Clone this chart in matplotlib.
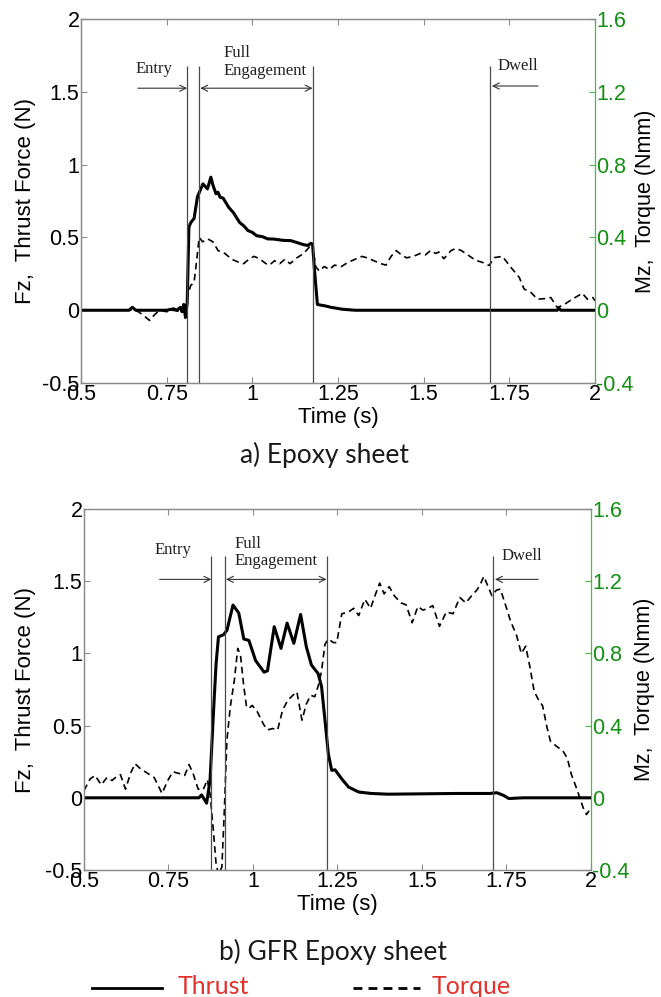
import matplotlib
matplotlib.use("Agg")
import matplotlib.pyplot as plt
from matplotlib.lines import Line2D

# ---------------- data: a) Epoxy sheet ----------------
t_thrust_a = [0.50, 0.60, 0.64, 0.65, 0.66, 0.70, 0.75, 0.77, 0.78, 0.79, 0.795, 0.80, 0.805,
              0.81, 0.815, 0.82, 0.83, 0.84, 0.856, 0.869, 0.879, 0.885, 0.894, 0.900, 0.906,
              0.915, 0.931, 0.945, 0.9625, 0.975, 0.9875, 1.00, 1.0125, 1.03, 1.045, 1.0625,
              1.09, 1.1125, 1.13, 1.15, 1.162, 1.171, 1.176, 1.181, 1.19, 1.20, 1.2125, 1.23,
              1.2625, 1.30, 1.50, 1.89, 1.895, 1.90, 2.00]
thrust_a = [0.0, 0.0, 0.0, 0.02, 0.0, 0.0, 0.0, 0.01, 0.0, 0.02, -0.01, 0.04, -0.05,
            0.05, 0.57, 0.60, 0.63, 0.78, 0.868, 0.833, 0.914, 0.86, 0.80, 0.81, 0.776,
            0.77, 0.707, 0.67, 0.604, 0.58, 0.547, 0.535, 0.512, 0.505, 0.49, 0.489,
            0.48, 0.478, 0.465, 0.45, 0.445, 0.46, 0.45, 0.29, 0.04, 0.035, 0.03, 0.02,
            0.007, 0.0, 0.0, 0.0, 0.015, 0.0, 0.0]

t_torque_a = [0.50, 0.60, 0.66, 0.68, 0.70, 0.715, 0.73, 0.75, 0.77, 0.79, 0.80, 0.81, 0.82,
              0.83, 0.838, 0.845, 0.855, 0.87, 0.885, 0.90, 0.92, 0.94, 0.96, 0.975, 0.99,
              1.005, 1.02, 1.04, 1.05, 1.065, 1.08, 1.095, 1.11, 1.13, 1.15, 1.165, 1.175,
              1.185, 1.195, 1.21, 1.225, 1.24, 1.26, 1.28, 1.30, 1.32, 1.335, 1.355, 1.375,
              1.39, 1.405, 1.42, 1.435, 1.45, 1.47, 1.49, 1.505, 1.52, 1.535, 1.544, 1.559,
              1.58, 1.593, 1.61, 1.632, 1.652, 1.67, 1.691, 1.706, 1.73, 1.754, 1.779, 1.793,
              1.813, 1.832, 1.855, 1.871, 1.89, 1.909, 1.934, 1.963, 1.978, 1.994, 2.00]
torque_a = [0.0, 0.0, 0.0, -0.024, -0.056, -0.024, 0.0, -0.008, 0.0, -0.008, 0.008, 0.064, 0.136,
            0.152, 0.28, 0.40, 0.376, 0.392, 0.376, 0.328, 0.312, 0.28, 0.264, 0.256, 0.28,
            0.296, 0.284, 0.256, 0.248, 0.272, 0.256, 0.28, 0.256, 0.288, 0.312, 0.344, 0.368,
            0.24, 0.216, 0.24, 0.224, 0.248, 0.24, 0.264, 0.28, 0.296, 0.288, 0.272, 0.256,
            0.248, 0.296, 0.328, 0.304, 0.288, 0.296, 0.312, 0.304, 0.328, 0.312, 0.32, 0.283,
            0.328, 0.339, 0.328, 0.30, 0.274, 0.264, 0.246, 0.289, 0.296, 0.237, 0.181, 0.117,
            0.098, 0.061, 0.064, 0.07, 0.015, 0.03, 0.061, 0.093, 0.061, 0.07, 0.052]

# ---------------- data: b) GFR Epoxy sheet ----------------
t_thrust_b = [0.50, 0.84, 0.848, 0.863, 0.873, 0.883, 0.891, 0.898, 0.913, 0.923, 0.941, 0.958,
              0.973, 0.988, 1.008, 1.033, 1.043, 1.063, 1.083, 1.101, 1.121, 1.141, 1.158,
              1.173, 1.193, 1.203, 1.213, 1.223, 1.233, 1.243, 1.263, 1.283, 1.313, 1.35,
              1.40, 1.60, 1.70, 1.722, 1.742, 1.757, 1.80, 2.00]
thrust_b = [0.0, 0.0, 0.02, -0.037, 0.12, 0.58, 0.93, 1.115, 1.13, 1.16, 1.335, 1.28,
            1.10, 1.09, 0.95, 0.87, 0.88, 1.185, 1.035, 1.21, 1.07, 1.27, 1.046,
            0.92, 0.86, 0.77, 0.54, 0.305, 0.19, 0.194, 0.13, 0.074, 0.04, 0.03,
            0.025, 0.03, 0.03, 0.035, 0.016, -0.005, 0.0, 0.0]

t_torque_b = [0.50, 0.518, 0.533, 0.551, 0.568, 0.583, 0.593, 0.608, 0.623, 0.638, 0.651, 0.668,
              0.688, 0.708, 0.731, 0.748, 0.763, 0.783, 0.798, 0.811, 0.823, 0.838, 0.853,
              0.865, 0.873, 0.883, 0.891, 0.898, 0.908, 0.915, 0.923, 0.933, 0.945, 0.955,
              0.963, 0.973, 0.981, 0.988, 0.998, 1.013, 1.031, 1.043, 1.058, 1.073, 1.088,
              1.103, 1.118, 1.13, 1.145, 1.158, 1.171, 1.183, 1.195, 1.203, 1.213, 1.223,
              1.238, 1.248, 1.263, 1.283, 1.298, 1.313, 1.331, 1.348, 1.363, 1.375, 1.388,
              1.403, 1.418, 1.438, 1.453, 1.471, 1.488, 1.503, 1.518, 1.532, 1.552, 1.572,
              1.592, 1.612, 1.63, 1.647, 1.662, 1.672, 1.683, 1.707, 1.72, 1.732, 1.747,
              1.762, 1.78, 1.794, 1.807, 1.82, 1.832, 1.844, 1.857, 1.87, 1.88, 1.897,
              1.917, 1.93, 1.942, 1.957, 1.967, 1.977, 1.987, 2.00]
torque_b = [0.04, 0.104, 0.124, 0.072, 0.112, 0.096, 0.112, 0.128, 0.048, 0.136, 0.189, 0.16,
            0.136, 0.112, 0.024, 0.096, 0.144, 0.134, 0.124, 0.184, 0.134, 0.048, 0.045,
            0.10, 0.024, -0.184, -0.368, -0.424, -0.384, -0.088, 0.32, 0.504, 0.652, 0.828,
            0.792, 0.616, 0.504, 0.496, 0.512, 0.476, 0.408, 0.376, 0.384, 0.376, 0.488,
            0.54, 0.568, 0.587, 0.43, 0.52, 0.568, 0.56, 0.632, 0.704, 0.85, 0.88,
            0.86, 0.86, 1.02, 1.03, 1.05, 1.01, 1.10, 1.05, 1.13, 1.19, 1.13,
            1.17, 1.12, 1.08, 1.07, 0.97, 1.06, 1.04, 1.05, 1.065, 0.95, 1.03,
            1.02, 1.11, 1.08, 1.12, 1.15, 1.18, 1.227, 1.12, 1.15, 1.157, 1.07,
            0.98, 0.90, 0.80, 0.84, 0.72, 0.59, 0.546, 0.51, 0.39, 0.315, 0.287,
            0.26, 0.22, 0.13, 0.055, 0.0, -0.055, -0.093, -0.055]

# phase boundaries (s)
bounds_a = [0.81, 0.845, 1.176, 1.694]
bounds_b = [0.877, 0.917, 1.218, 1.711]

x_ticks = [0.5, 0.75, 1.0, 1.25, 1.5, 1.75, 2.0]
x_ticklabels = ["0.5", "0.75", "1", "1.25", "1.5", "1.75", "2"]
y_ticks = [-0.5, 0, 0.5, 1, 1.5, 2]
y_ticklabels = ["-0.5", "0", "0.5", "1", "1.5", "2"]
y2_ticks = [-0.4, 0, 0.4, 0.8, 1.2, 1.6]
y2_ticklabels = ["-0.4", "0", "0.4", "0.8", "1.2", "1.6"]

# ---------------- styling ----------------
SANS = "Liberation Sans"
SERIF = "Liberation Serif"
CAP = "Lato"
GRAY = "#8a8a8a"
GREEN_SP = "#4cb84c"
GREEN_TX = "#138f13"
RED = "#e2322e"
TICK_FS = 15.5

fig = plt.figure(figsize=(6.61, 9.97), dpi=100)


def make_panel(rect, t_th, th, t_tq, tq, bounds, ann):
    ax = fig.add_axes(rect)
    ax2 = ax.twinx()
    ax.set_xlim(0.5, 2.0)
    ax.set_ylim(-0.5, 2.0)
    ax2.set_ylim(-0.4, 1.6)
    ax.set_zorder(ax2.get_zorder() + 1)
    ax.patch.set_visible(False)

    ax.plot(t_th, th, color="black", lw=2.2, solid_joinstyle="round")
    ax2.plot(t_tq, tq, color="black", lw=1.2, linestyle=(0, (4, 2.6)))

    ax.vlines(bounds, -0.5, ann["line_top"], colors="#4a4a4a", lw=0.9)

    ax.set_xticks(x_ticks)
    ax.set_xticklabels(x_ticklabels, fontfamily=SANS, fontsize=TICK_FS)
    ax.set_yticks(y_ticks)
    ax.set_yticklabels(y_ticklabels, fontfamily=SANS, fontsize=TICK_FS)
    ax2.set_yticks(y2_ticks)
    ax2.set_yticklabels(y2_ticklabels, fontfamily=SANS, fontsize=TICK_FS, color=GREEN_TX)

    ax.tick_params(axis="x", direction="in", top=True, length=4, width=0.8, color=GRAY, pad=1)
    ax.tick_params(axis="y", direction="in", left=True, right=False, length=4, width=0.8,
                   color=GRAY, pad=1)
    ax2.tick_params(axis="y", direction="in", length=4, width=0.8, color=GREEN_SP, pad=1)

    for s in ["left", "top", "bottom"]:
        ax.spines[s].set_color(GRAY)
        ax.spines[s].set_linewidth(0.9)
        ax2.spines[s].set_color(GRAY)
        ax2.spines[s].set_linewidth(0.9)
    ax.spines["right"].set_visible(False)
    ax2.spines["right"].set_color(GREEN_SP)
    ax2.spines["right"].set_linewidth(0.9)

    w_px = rect[2] * 661
    l_px = rect[0] * 661
    ax.set_ylabel("Fz,  Thrust Force (N)", fontfamily=SANS, fontsize=16,
                  ha="center", va="center")
    ax.yaxis.set_label_coords((26 - l_px) / w_px, 0.5)
    ax2.set_ylabel("Mz,  Torque (Nmm)", fontfamily=SANS, fontsize=15.5, rotation=90,
                   ha="center", va="center")
    ax2.yaxis.set_label_coords((645 - l_px) / w_px, 0.5)
    ax.set_xlabel("Time (s)", fontfamily=SANS, fontsize=16)
    ax.xaxis.set_label_coords(0.5, ann["xlabel_y"])
    ax.xaxis.label.set_verticalalignment("center")

    arr = dict(arrowstyle="->,head_length=0.45,head_width=0.22", lw=0.8, color="#333333",
               shrinkA=0, shrinkB=0)
    arr2 = dict(arrowstyle="<->,head_length=0.45,head_width=0.22", lw=0.8, color="#333333",
                shrinkA=0, shrinkB=0)
    y_ar = ann["arrow_y"]
    ax.annotate("", xy=(bounds[0], y_ar), xytext=(ann["entry_from"], y_ar), arrowprops=arr)
    ax.annotate("", xy=(bounds[2], y_ar), xytext=(bounds[1] + 0.003, y_ar), arrowprops=arr2)
    ax.annotate("", xy=(bounds[3] + 0.005, ann["dwell_y"]), xytext=(ann["dwell_from"], ann["dwell_y"]),
                arrowprops=arr)

    tkw = dict(fontfamily=SERIF, fontsize=12, color="#222222")
    ax.text(ann["entry_x"], ann["entry_ty"], "Entry", ha="center", va="center", **tkw)
    ax.text(ann["full_x"], ann["full_ty"], "Full\nEngagement", ha="left", va="center",
            linespacing=1.1, **tkw)
    ax.text(ann["dwell_x"], ann["dwell_ty"], "Dwell", ha="center", va="center", **tkw)
    return ax


ann_a = dict(line_top=1.68, xlabel_y=-0.096, arrow_y=1.525, entry_from=0.666,
             dwell_from=1.834, dwell_y=1.54, entry_x=0.7125, entry_ty=1.655,
             full_x=0.916, full_ty=1.705, dwell_x=1.776, dwell_ty=1.68)
ann_b = dict(line_top=1.673, xlabel_y=-0.097, arrow_y=1.513, entry_from=0.724,
             dwell_from=1.844, dwell_y=1.513, entry_x=0.762, entry_ty=1.715,
             full_x=0.946, full_ty=1.70, dwell_x=1.795, dwell_ty=1.675)

make_panel([0.1225, 0.6158, 0.7776, 0.3651], t_thrust_a, thrust_a, t_torque_a, torque_a,
           bounds_a, ann_a)
make_panel([0.127, 0.1274, 0.767, 0.362], t_thrust_b, thrust_b, t_torque_b, torque_b,
           bounds_b, ann_b)

fig.text(324 / 661, 1 - 455 / 997, "a) Epoxy sheet", ha="center", va="center",
         fontfamily=CAP, fontsize=19, color="#1a1a1a")
fig.text(333 / 661, 1 - 952 / 997, "b) GFR Epoxy sheet", ha="center", va="center",
         fontfamily=CAP, fontsize=19, color="#1a1a1a")

# legend row
fig.add_artist(Line2D([92 / 661, 162 / 661], [1 - 988 / 997] * 2, color="black", lw=2.0))
fig.add_artist(Line2D([353 / 661, 420 / 661], [1 - 988 / 997] * 2, color="black", lw=2.0,
                      linestyle=(0, (3.2, 2.2))))
fig.text(178 / 661, 1 - 986 / 997, "Thrust", ha="left", va="center", fontfamily=CAP,
         fontsize=18, color=RED)
fig.text(432 / 661, 1 - 986 / 997, "Torque", ha="left", va="center", fontfamily=CAP,
         fontsize=18, color=RED)

fig.savefig("out.png", dpi=100)
